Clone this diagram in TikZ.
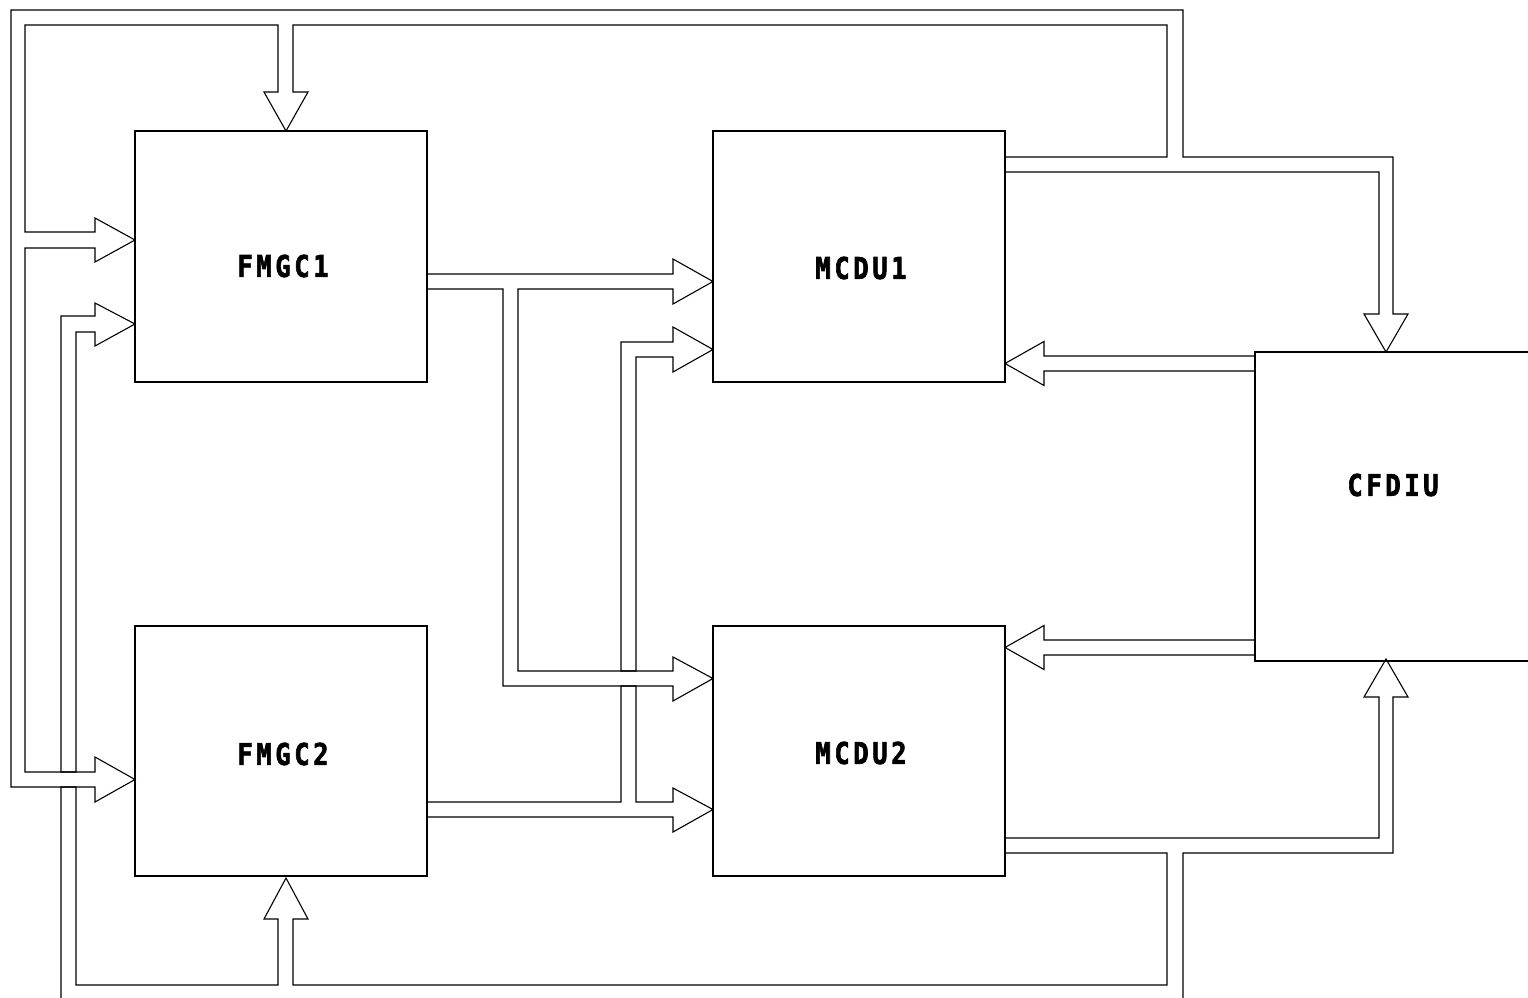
\documentclass[tikz,border=0pt]{standalone}
\usepackage{fontspec}
\newfontfamily\lblfont[FakeStretch=0.85,LetterSpace=12,FakeBold=2]{DejaVu Sans Mono Bold}
\begin{document}
\begin{tikzpicture}[x=1pt,y=-1pt,
  box/.style={draw=black,line width=1.1pt,inner sep=0pt,outer sep=0pt,anchor=north west},
  pipe/.style={draw=black,line width=1.1pt,line join=miter},
  lbl/.style={inner sep=0pt,font=\lblfont\fontsize{30}{30}\selectfont}]
\useasboundingbox (0,0) rectangle (1528,998);
\fill[white] (0,0) rectangle (1528,998);
% boxes
\node[box,minimum width=292pt,minimum height=251pt] (fmgc1) at (135,131) {};
\node[box,minimum width=292pt,minimum height=250pt] (fmgc2) at (135,626) {};
\node[box,minimum width=292pt,minimum height=251pt] (mcdu1) at (713,131) {};
\node[box,minimum width=292pt,minimum height=250pt] (mcdu2) at (713,626) {};
\node[box,minimum width=300pt,minimum height=309pt] (cfdiu) at (1255,352) {};
% labels
\node[lbl] (l1) at (283,266) {FMGC1};
\node[lbl] (l2) at (283,754) {FMGC2};
\node[lbl] (l3) at (861,268) {MCDU1};
\node[lbl] (l4) at (861,753) {MCDU2};
\node[lbl] (l5) at (1393,485) {CFDIU};
% pipe from MCDU1 (top loop)
\draw[pipe] (1005,157) -- (1167,157) -- (1167,25) -- (293,25) -- (293,92) -- (308,92)
  -- (286,131) -- (264,92) -- (278,92) -- (278,25) -- (25,25) -- (25,232) -- (95,232)
  -- (95,218) -- (135,240) -- (95,262) -- (95,248) -- (25,248) -- (25,772) -- (95,772)
  -- (95,757) -- (135,779.5) -- (95,802) -- (95,787) -- (11,787) -- (11,10) -- (1183,10)
  -- (1183,157) -- (1393,157) -- (1393,314) -- (1408,314) -- (1386,352) -- (1364,314)
  -- (1379,314) -- (1379,172) -- (1005,172);
% pipe from MCDU2 (bottom loop)
\draw[pipe] (1005,838) -- (1379,838) -- (1379,697) -- (1364,697) -- (1386,659) -- (1408,697)
  -- (1393,697) -- (1393,853) -- (1183,853) -- (1183,1000) -- (61,1000) -- (61,787)
  -- (76,787) -- (76,985) -- (278,985) -- (278,919) -- (264,919) -- (286,878) -- (308,919)
  -- (293,919) -- (293,985) -- (1167,985) -- (1167,853) -- (1005,853);
\draw[pipe] (61,772) -- (61,316) -- (95,316) -- (95,303) -- (135,324) -- (95,346)
  -- (95,332) -- (76,332) -- (76,772) -- cycle;
% pipe from FMGC1
\draw[pipe] (427,274) -- (673,274) -- (673,259) -- (713,281.5) -- (673,304) -- (673,289)
  -- (518,289) -- (518,671) -- (673,671) -- (673,657) -- (713,678.5) -- (673,701)
  -- (673,686) -- (503,686) -- (503,289) -- (427,289);
% pipe from FMGC2
\draw[pipe] (427,802) -- (621,802) -- (621,686) -- (636,686) -- (636,802) -- (673,802)
  -- (673,788) -- (713,809.5) -- (673,832) -- (673,817) -- (427,817);
\draw[pipe] (621,671) -- (621,342) -- (673,342) -- (673,327) -- (713,349.5) -- (673,372)
  -- (673,357) -- (636,357) -- (636,671) -- cycle;
% pipes from CFDIU
\draw[pipe] (1255,356) -- (1044,356) -- (1044,341.5) -- (1005,363.5) -- (1044,385.5)
  -- (1044,371) -- (1255,371);
\draw[pipe] (1255,640) -- (1044,640) -- (1044,625.5) -- (1005,647.5) -- (1044,669.5)
  -- (1044,655) -- (1255,655);
\end{tikzpicture}
\end{document}
